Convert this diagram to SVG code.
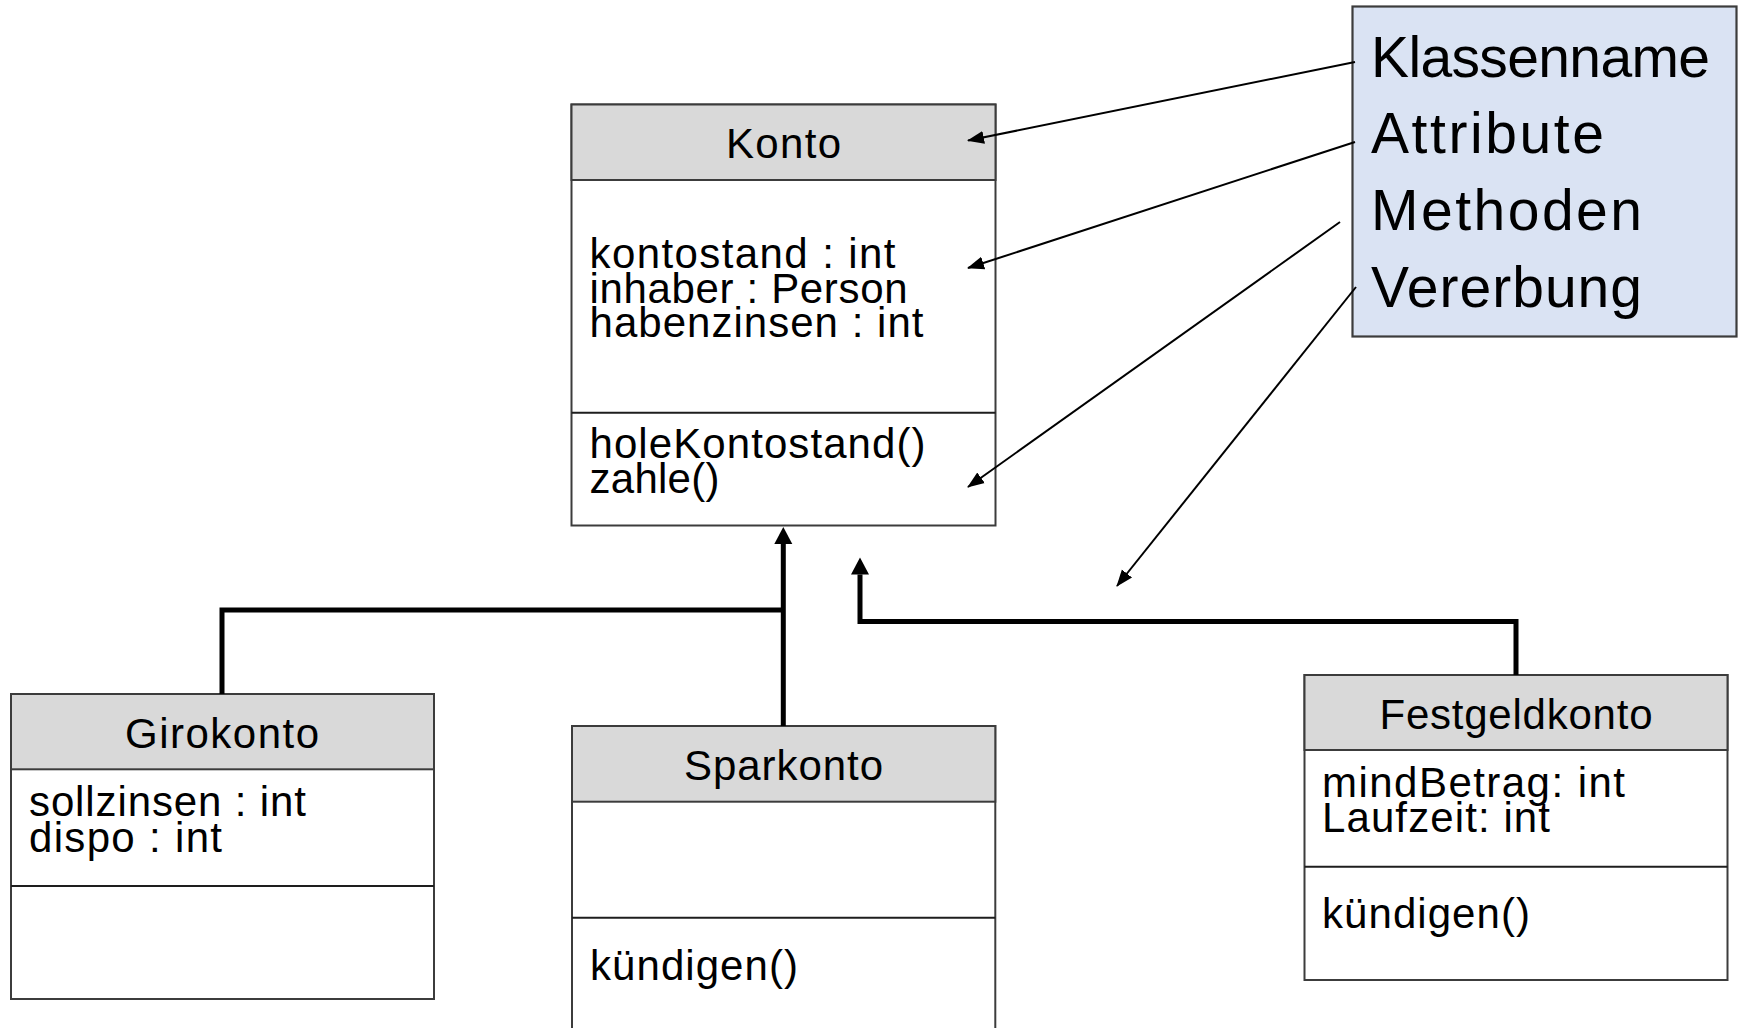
<svg xmlns="http://www.w3.org/2000/svg" width="1740" height="1028" viewBox="0 0 1740 1028">
<style>
  .box { fill: #ffffff; stroke: #3c3c3c; stroke-width: 2; }
  .head { fill: #d9d9d9; stroke: #3c3c3c; stroke-width: 2; }
  .div { stroke: #1e1e1e; stroke-width: 2; fill: none; }
  .t { font-family: "Liberation Sans", Arial, sans-serif; font-size: 42px; fill: #000; }
  .tc { text-anchor: middle; }
  .leg { font-family: "Liberation Sans", Arial, sans-serif; font-size: 57px; fill: #000; }
  .thin { stroke: #000; stroke-width: 2; fill: none; }
  .inh { stroke: #000; stroke-width: 5; fill: none; stroke-linejoin: miter; }
</style>
<defs>
  <marker id="ah" markerUnits="userSpaceOnUse" markerWidth="20" markerHeight="16" viewBox="0 -8 20 16" refX="16" refY="0" orient="auto">
    <path d="M0,-6.5 L17,0 L0,6.5 z" fill="#000"/>
  </marker>
  <marker id="ih" markerUnits="userSpaceOnUse" markerWidth="20" markerHeight="20" viewBox="0 -10 20 20" refX="0" refY="0" orient="auto">
    <path d="M0,-9 L17,0 L0,9 z" fill="#000"/>
  </marker>
</defs>
<rect width="1740" height="1028" fill="#ffffff"/>

<g id="legend">
  <rect x="1352.5" y="6.5" width="384" height="330" fill="#dae3f3" stroke="#3c3c3c" stroke-width="2.2"/>
  <text class="leg" x="1371" y="76.7" textLength="339">Klassenname</text>
  <text class="leg" x="1371" y="153.3" textLength="233">Attribute</text>
  <text class="leg" x="1371" y="230" textLength="271">Methoden</text>
  <text class="leg" x="1371" y="306.5" textLength="271">Vererbung</text>
</g>

<g id="konto">
  <rect class="box" x="571.5" y="104.5" width="424" height="421"/>
  <rect class="head" x="571.5" y="104.5" width="424" height="75.5"/>
  <line class="div" x1="571.5" y1="412.8" x2="995.5" y2="412.8"/>
  <text class="t tc" x="783.5" y="158.3" textLength="115">Konto</text>
  <text class="t" x="589.5" y="268.3" textLength="306">kontostand : int</text>
  <text class="t" x="589.5" y="302.8" textLength="318">inhaber : Person</text>
  <text class="t" x="589.5" y="337.3" textLength="334">habenzinsen : int</text>
  <text class="t" x="589.5" y="458.3" textLength="336">holeKontostand()</text>
  <text class="t" x="589.5" y="493.3" textLength="130">zahle()</text>
</g>

<g id="girokonto">
  <rect class="box" x="11" y="694" width="423" height="305"/>
  <rect class="head" x="11" y="694" width="423" height="75.3"/>
  <line class="div" x1="11" y1="886" x2="434" y2="886"/>
  <text class="t tc" x="222" y="748.3" textLength="194">Girokonto</text>
  <text class="t" x="29" y="816" textLength="277">sollzinsen : int</text>
  <text class="t" x="29" y="851.7" textLength="193">dispo : int</text>
</g>

<g id="sparkonto">
  <rect class="box" x="572" y="726" width="423.3" height="320"/>
  <rect class="head" x="572" y="726" width="423.3" height="75.7"/>
  <line class="div" x1="572" y1="917.7" x2="995.3" y2="917.7"/>
  <text class="t tc" x="783.5" y="780" textLength="199">Sparkonto</text>
  <text class="t" x="590" y="980" textLength="208">kündigen()</text>
</g>

<g id="festgeldkonto">
  <rect class="box" x="1304.5" y="675" width="423" height="305"/>
  <rect class="head" x="1304.5" y="675" width="423" height="75"/>
  <line class="div" x1="1304.5" y1="866.7" x2="1727.5" y2="866.7"/>
  <text class="t tc" x="1516" y="729" textLength="273">Festgeldkonto</text>
  <text class="t" x="1322" y="796.7" textLength="303">mindBetrag: int</text>
  <text class="t" x="1322" y="831.7" textLength="228">Laufzeit: int</text>
  <text class="t" x="1322" y="928.3" textLength="208">kündigen()</text>
</g>

<g id="connectors">
  <line class="thin" x1="1355" y1="62" x2="968" y2="140.5" marker-end="url(#ah)"/>
  <line class="thin" x1="1355" y1="142" x2="968" y2="268" marker-end="url(#ah)"/>
  <line class="thin" x1="1340" y1="222" x2="968" y2="487" marker-end="url(#ah)"/>
  <line class="thin" x1="1356" y1="287" x2="1117" y2="586" marker-end="url(#ah)"/>
  <polyline class="inh" points="222,694 222,610 783.3,610"/>
  <polyline class="inh" points="783.3,726 783.3,544" marker-end="url(#ih)"/>
  <polyline class="inh" points="1516,675 1516,621.5 860,621.5 860,574.5" marker-end="url(#ih)"/>
</g>
</svg>
